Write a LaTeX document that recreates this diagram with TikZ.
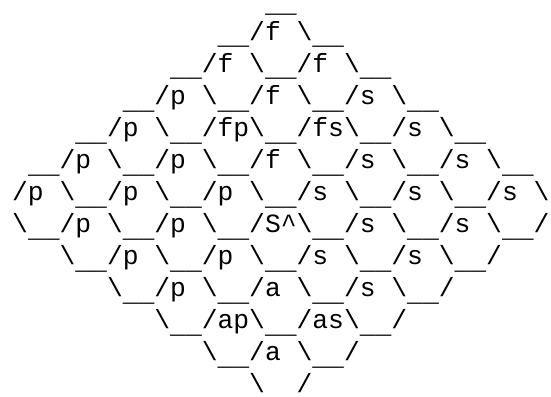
\documentclass[tikz,border=0pt]{standalone}
\usepackage{fontspec}
\setmonofont{Liberation Mono}
\newcommand{\bsl}{\textbackslash}
\newcommand{\ulow}{\raisebox{-4.5pt}{\_\_}}  % Unterstrich wie bei Courier tiefer
\newcommand{\cw}{15.8}   % Zeichenbreite
\newcommand{\lh}{32}     % Zeilenabstand

\begin{document}
\begin{tikzpicture}[x=1pt,y=1pt,
    asciirow/.style={anchor=base west,inner sep=0pt,
      font=\ttfamily\fontsize{26.33}{32}\selectfont}]
    \useasboundingbox (0,0) rectangle (551,-396);
    % obere Hälfte
    \node[asciirow] (row1) at ({12+16*\cw},{-8.5-0*\lh}) {\ulow};
    \node[asciirow] (row2) at ({12+13*\cw},{-8.5-1*\lh}) {\ulow/f \bsl\ulow};
    \node[asciirow] (row3) at ({12+10*\cw},{-8.5-2*\lh}) {\ulow/f \bsl\ulow/f \bsl\ulow};
    \node[asciirow] (row4) at ({12+7*\cw},{-8.5-3*\lh}) {\ulow/p \bsl\ulow/f \bsl\ulow/s \bsl\ulow};
    \node[asciirow] (row5) at ({12+4*\cw},{-8.5-4*\lh}) {\ulow/p \bsl\ulow/fp\bsl\ulow/fs\bsl\ulow/s \bsl\ulow};
    \node[asciirow] (row6) at ({12+1*\cw},{-8.5-5*\lh}) {\ulow/p \bsl\ulow/p \bsl\ulow/f \bsl\ulow/s \bsl\ulow/s \bsl\ulow};
    % mittlere Zeilen
    \node[asciirow] (row7) at ({12+0*\cw},{-8.5-6*\lh}) {/p \bsl\ulow/p \bsl\ulow/p \bsl\ulow/s \bsl\ulow/s \bsl\ulow/s \bsl};
    \node[asciirow] (row8) at ({12+0*\cw},{-8.5-7*\lh}) {\bsl\ulow/p \bsl\ulow/p \bsl\ulow/S\textasciicircum\bsl\ulow/s \bsl\ulow/s \bsl\ulow/};
    % untere Hälfte
    \node[asciirow] (row9) at ({12+3*\cw},{-8.5-8*\lh}) {\bsl\ulow/p \bsl\ulow/p \bsl\ulow/s \bsl\ulow/s \bsl\ulow/};
    \node[asciirow] (row10) at ({12+6*\cw},{-8.5-9*\lh}) {\bsl\ulow/p \bsl\ulow/a \bsl\ulow/s \bsl\ulow/};
    \node[asciirow] (row11) at ({12+9*\cw},{-8.5-10*\lh}) {\bsl\ulow/ap\bsl\ulow/as\bsl\ulow/};
    \node[asciirow] (row12) at ({12+12*\cw},{-8.5-11*\lh}) {\bsl\ulow/a \bsl\ulow/};
    \node[asciirow] (row13) at ({12+15*\cw},{-8.5-12*\lh}) {\bsl~~/};
\end{tikzpicture}
\end{document}
